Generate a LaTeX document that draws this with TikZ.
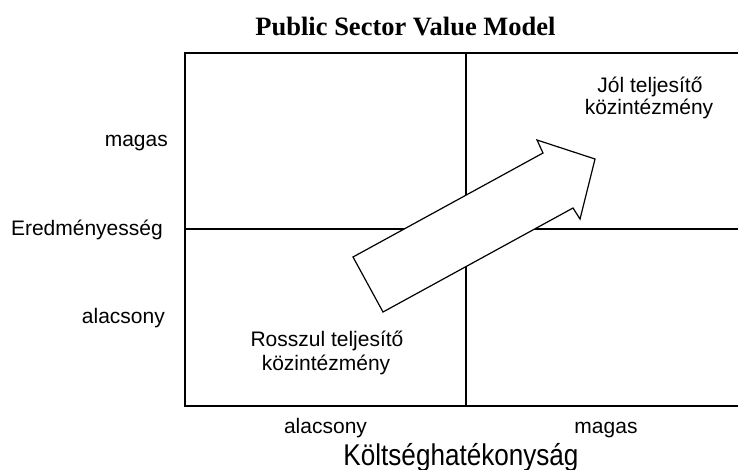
\documentclass[tikz,border=0pt]{standalone}
\usepackage{fontspec}
\setmainfont{Liberation Serif}
\setsansfont{Liberation Sans}
\newfontfamily\axisfont[FakeStretch=0.87]{Liberation Sans}
\begin{document}
\begin{tikzpicture}[x=1pt,y=-1pt,
  lbl/.style={inner sep=0pt,anchor=base,font=\sffamily\fontsize{21}{23}\selectfont},
  lblr/.style={lbl,anchor=base east},
  gridline/.style={line width=1.8pt},
  bigarrow/.style={line width=1.2pt,fill=white,line join=miter}]
\useasboundingbox (0,0) rectangle (738,469);
% quadrant box
\coordinate (tl) at (185,53);
\coordinate (tr) at (738,53);
\coordinate (bl) at (185,406);
\coordinate (br) at (738,406);
\coordinate (mt) at (466,53);
\coordinate (mb) at (466,406);
\coordinate (ml) at (185,229);
\coordinate (mr) at (738,229);
\draw[gridline] (tr) -- (tl) -- (bl) -- (br);
\draw[gridline] (mt) -- (mb);
\draw[gridline] (ml) -- (mr);
% big arrow
\draw[bigarrow] (353,257) -- (543,153) -- (537,140) -- (595,159)
  -- (580,219) -- (573,208) -- (383,312) -- cycle;
% title
\node[inner sep=0pt,anchor=base,font=\bfseries\fontsize{26.5}{28}\selectfont] (title) at (405.5,35) {Public Sector Value Model};
% y axis labels
\node[lblr] (ymagas) at (168,146) {magas};
\node[lblr] (yaxis) at (163,235) {Eredményesség};
\node[lblr] (yalacsony) at (165,323) {alacsony};
% quadrant labels
\node[lbl] (jol1) at (650,92) {Jól teljesítő};
\node[lbl] (jol2) at (649,114) {közintézmény};
\node[lbl] (rossz1) at (327,346) {Rosszul teljesítő};
\node[lbl] (rossz2) at (326,370) {közintézmény};
% x axis labels
\node[lbl] (xalacsony) at (325.5,433) {alacsony};
\node[lbl] (xmagas) at (606,433) {magas};
\node[lbl,font=\axisfont\fontsize{30}{32}\selectfont] (xaxis) at (461,465) {Költséghatékonyság};
\end{tikzpicture}
\end{document}
